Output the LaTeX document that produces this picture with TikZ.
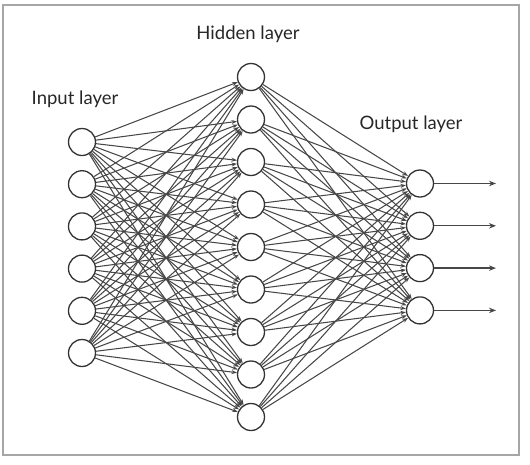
\documentclass[tikz,border=0pt]{standalone}
\usepackage{fontspec}
\setmainfont{Lato}
\usetikzlibrary{arrows.meta,backgrounds}
\begin{document}
\begin{tikzpicture}[x=1pt,y=-1pt,
  neuron/.style={circle,draw=black!80,line width=1.3pt,fill=white,minimum size=27pt,inner sep=0pt},
  conn/.style={draw=black!72,line width=1.05pt,-{Stealth[length=5.5pt,width=4pt]}},
  outarrow/.style={draw=black!72,line width=1.3pt,-{Stealth[length=7pt,width=5.5pt]}},
  lbl/.style={font=\fontsize{18.5}{20}\selectfont,text=black!85}]
\useasboundingbox (0,0) rectangle (530,464);
\draw[black!35,line width=1.2pt] (3,5) rectangle (519,455);
\foreach \i in {1,...,6} \node[neuron] (I\i) at (82,{142+42.2*(\i-1)}) {};
\foreach \j in {1,...,9} \node[neuron] (H\j) at (251,{77+42.5*(\j-1)}) {};
\foreach \k in {1,...,4} \node[neuron] (O\k) at (420,{183.5+42.3*(\k-1)}) {};
\foreach \k in {1,...,4} \coordinate (E\k) at (496,{183.5+42.3*(\k-1)});
\begin{pgfonlayer}{background}
\foreach \i in {1,...,6} \foreach \j in {1,...,9} \draw[conn] (I\i) -- (H\j);
\foreach \j in {1,...,9} \foreach \k in {1,...,4} \draw[conn] (H\j) -- (O\k);
\end{pgfonlayer}
\foreach \k in {1,...,4} \draw[outarrow] (O\k) -- (E\k);
\node[lbl] (tH) at (248,34) {Hidden layer};
\node[lbl] (tI) at (75,99) {Input layer};
\node[lbl] (tO) at (411,124) {Output layer};
\end{tikzpicture}
\end{document}
